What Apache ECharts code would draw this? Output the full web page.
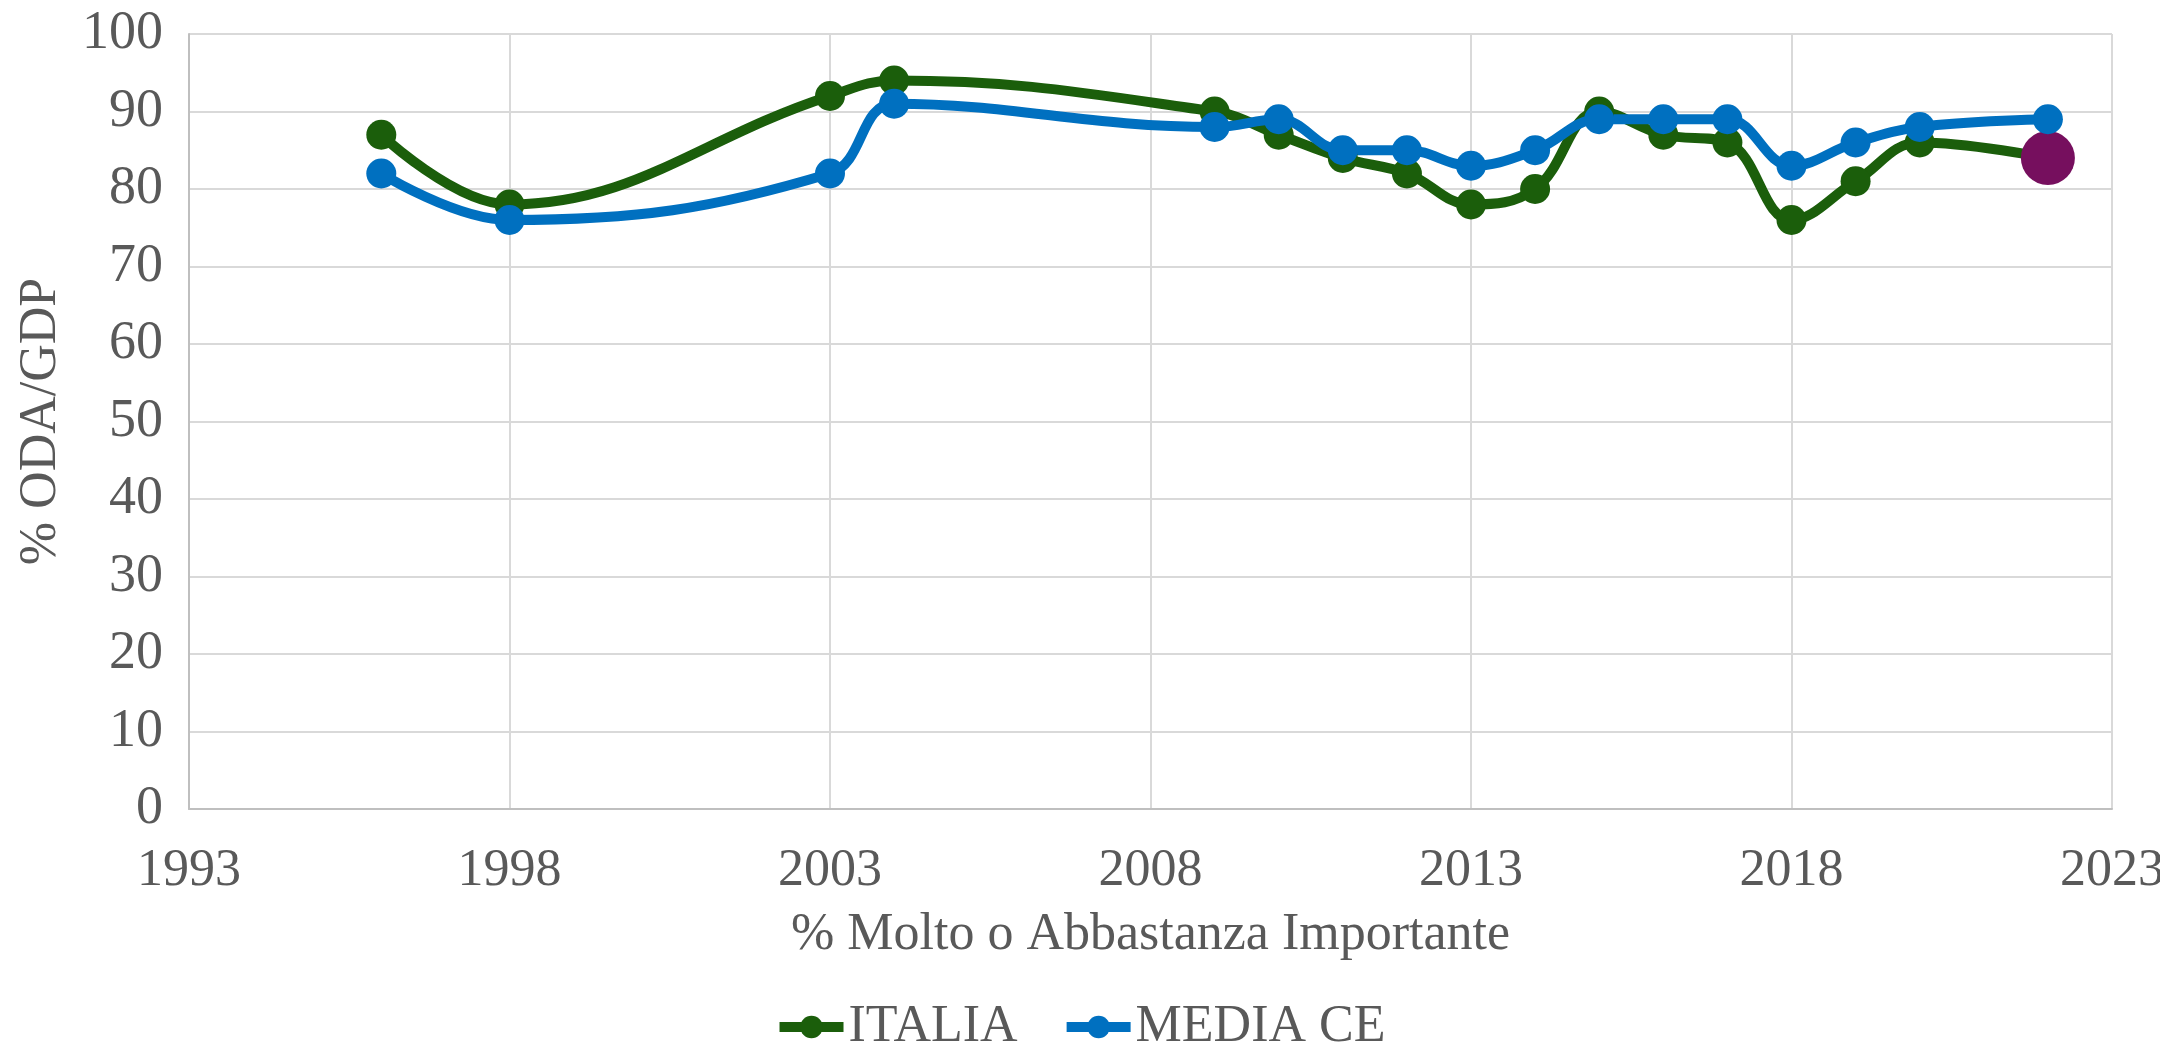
<!DOCTYPE html>
<html>
<head>
<meta charset="utf-8">
<script src="https://cdn.jsdelivr.net/npm/echarts@6/dist/echarts.min.js"></script>
<style>
  html, body { margin: 0; padding: 0; background: #fff; }
  #chart { width: 2160px; height: 1044px; }
</style>
</head>
<body>
<div id="chart"></div>
<script>
// anni delle rilevazioni
var years = [1996, 1998, 2003, 2004, 2009, 2010, 2011, 2012, 2013, 2014, 2015, 2016, 2017, 2018, 2019, 2020, 2022];
var italia = [87, 78, 92, 94, 90, 87, 84, 82, 78, 80, 90, 87, 86, 76, 81, 86, 84];
var mediaCE = [82, 76, 82, 91, 88, 89, 85, 85, 83, 85, 89, 89, 89, 83, 86, 88, 89];
var xStart = 1993;  // primo tick asse x
var xEnd = 2023;
var xStep = 5;
var yTicks = [0, 10, 20, 30, 40, 50, 60, 70, 80, 90, 100];

var font = '"Liberation Serif", "DejaVu Serif", serif';
var textColor = '#595959';

// l'asse x parte da 0 (offset da xStart) cosi i tick cadono su 1993, 1998, ...
function toPoints(vals, lastStyle) {
  return years.map(function (y, i) {
    var p = { value: [y - xStart, vals[i]] };
    if (lastStyle && i === years.length - 1) {
      p.symbolSize = 54;
      p.itemStyle = { color: '#760F5E' };
    }
    return p;
  });
}

var chart = echarts.init(document.getElementById('chart'));
var option = {
  animation: false,
  textStyle: { fontFamily: font },
  grid: { left: 189, right: 48, top: 34, bottom: 235, outerBoundsMode: 'none', containLabel: false },
  legend: {
    bottom: -14,
    left: 'center',
    itemWidth: 64,
    itemHeight: 28,
    itemGap: 44,
    lineStyle: { width: 10 },
    textStyle: { fontFamily: font, fontSize: 52, color: textColor },
    data: ['ITALIA', 'MEDIA CE']
  },
  xAxis: {
    type: 'value',
    min: 0,
    max: xEnd - xStart,
    interval: xStep,
    name: '% Molto o Abbastanza Importante',
    nameLocation: 'middle',
    nameGap: 100,
    nameTextStyle: { fontFamily: font, fontSize: 52, color: textColor },
    axisLine: { show: true, lineStyle: { color: '#bfbfbf', width: 2 } },
    axisTick: { show: false },
    axisLabel: {
      fontSize: 52, color: textColor, margin: 36,
      formatter: function (v) { return String(v + xStart); }
    },
    splitLine: { show: true, lineStyle: { color: '#d9d9d9', width: 2 } }
  },
  yAxis: {
    type: 'value',
    min: yTicks[0],
    max: yTicks[yTicks.length - 1],
    interval: yTicks[1] - yTicks[0],
    name: '% ODA/GDP',
    nameLocation: 'middle',
    nameGap: 122,
    nameTextStyle: { fontFamily: font, fontSize: 52, color: textColor },
    axisLine: { show: true, lineStyle: { color: '#bfbfbf', width: 2 } },
    axisTick: { show: false },
    axisLabel: { fontSize: 54, color: textColor, margin: 26 },
    splitLine: { show: true, lineStyle: { color: '#d9d9d9', width: 2 } }
  },
  series: [
    {
      name: 'ITALIA',
      type: 'line',
      smooth: 0.4,
      symbol: 'circle',
      symbolSize: 30,
      lineStyle: { color: '#1B5E0B', width: 10 },
      itemStyle: { color: '#1B5E0B' },
      data: toPoints(italia, true)
    },
    {
      name: 'MEDIA CE',
      type: 'line',
      smooth: 0.4,
      symbol: 'circle',
      symbolSize: 30,
      lineStyle: { color: '#0070C0', width: 10 },
      itemStyle: { color: '#0070C0' },
      data: toPoints(mediaCE, false)
    }
  ]
};
chart.setOption(option);
</script>
</body>
</html>
